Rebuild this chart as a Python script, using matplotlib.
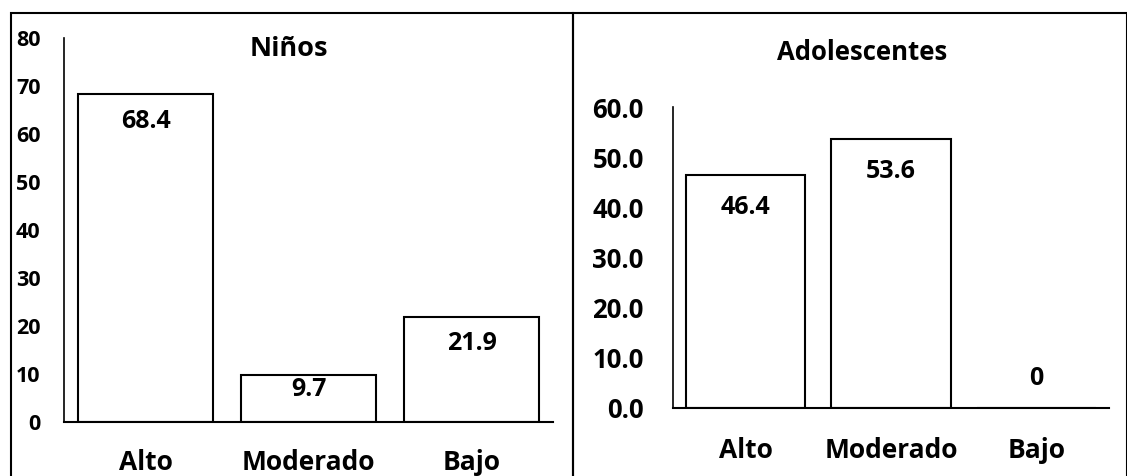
import matplotlib
matplotlib.use('Agg')
import matplotlib.pyplot as plt
from matplotlib.patches import Rectangle

categories = ['Alto', 'Moderado', 'Bajo']
ninos = [68.4, 9.7, 21.9]
adolescentes = [46.4, 53.6, 0]
ninos_labels = ['68.4', '9.7', '21.9']
adol_labels = ['46.4', '53.6', '0']
ninos_ticks = [0, 10, 20, 30, 40, 50, 60, 70, 80]
adol_ticks = [0, 10, 20, 30, 40, 50, 60]

plt.rcParams['font.family'] = ['Open Sans', 'DejaVu Sans']
plt.rcParams['font.weight'] = 'bold'

W, H = 1127, 476
fig = plt.figure(figsize=(W / 100, H / 100), dpi=100)


def px(x0, y_top, x1, y_bot):
    # pixel box -> figure fraction rect
    return [x0 / W, 1 - y_bot / H, (x1 - x0) / W, (y_bot - y_top) / H]


def panel(rect, values, labels, ticks, fmt, ypad, tick_fs, width, lab_off, xpad):
    ax = fig.add_axes(rect)
    x = range(len(categories))
    bars = ax.bar(x, values, width=width, color='white', edgecolor='black', linewidth=1.5)
    ax.set_xlim(-0.5, 2.5)
    ax.set_ylim(ticks[0], ticks[-1])
    ax.set_yticks(ticks)
    ax.set_yticklabels([fmt.format(t) for t in ticks], fontsize=tick_fs, fontweight='bold')
    ax.set_xticks(list(x))
    ax.set_xticklabels(categories, fontsize=19, fontweight='bold')
    ax.tick_params(axis='y', length=0, pad=ypad)
    ax.tick_params(axis='x', length=0, pad=xpad)
    for s in ['top', 'right']:
        ax.spines[s].set_visible(False)
    ax.spines['left'].set_linewidth(1.2)
    ax.spines['bottom'].set_linewidth(1.5)
    ax.patch.set_visible(False)
    for bar, lab, off in zip(bars, labels, lab_off):
        ax.annotate(lab, (bar.get_x() + bar.get_width() / 2, bar.get_height()),
                    xytext=(0, off), textcoords='offset points',
                    ha='center', va='center', fontsize=18, fontweight='bold')
    return ax


panel(px(64, 38, 553, 422), ninos, ninos_labels, ninos_ticks, '{:d}', 17, 15.5, 0.83,
      [-20, -10, -19], 19.5)
panel(px(673, 107, 1109, 408), adolescentes, adol_labels, adol_ticks, '{:.1f}', 21, 18.5, 0.82,
      [-23, -23, 21], 21)

fig.text(289 / W, 1 - 49 / H, 'Niños', ha='center', va='center', fontsize=19.5, fontweight='bold')
fig.text(862 / W, 1 - 53 / H, 'Adolescentes', ha='center', va='center', fontsize=18.5, fontweight='bold')

# panel frames
for x0, x1 in [(11, 573), (573, 1127)]:
    fig.patches.append(Rectangle((x0 / W, -0.1), (x1 - x0) / W, 1.1 - 13 / H,
                                 transform=fig.transFigure, fill=False,
                                 edgecolor='black', linewidth=1.5))

fig.savefig('out.png', dpi=100)
